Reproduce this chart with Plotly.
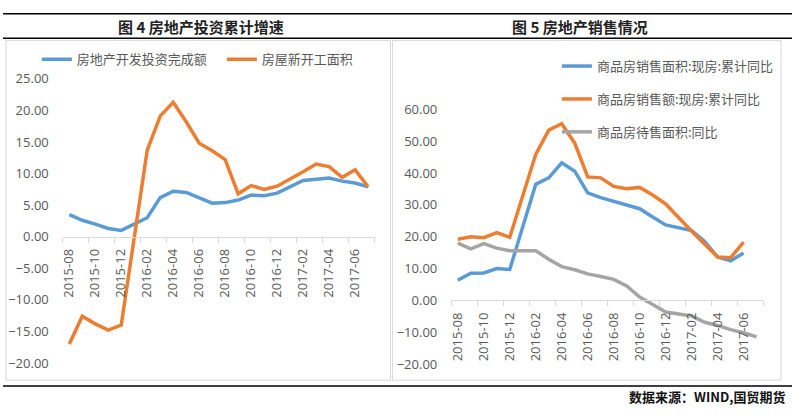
import plotly.graph_objects as go

W, H = 792, 416

months = ["2015-08", "2015-09", "2015-10", "2015-11", "2015-12", "2016-01",
          "2016-02", "2016-03", "2016-04", "2016-05", "2016-06", "2016-07",
          "2016-08", "2016-09", "2016-10", "2016-11", "2016-12", "2017-01",
          "2017-02", "2017-03", "2017-04", "2017-05", "2017-06", "2017-07"]

# Figure 4
invest = [3.5, 2.6, 2.0, 1.3, 1.0, None, 3.0, 6.2, 7.2, 7.0, 6.1, 5.3,
          5.4, 5.8, 6.6, 6.5, 6.9, None, 8.9, 9.1, 9.3, 8.8, 8.5, 7.9]
newstart = [-17.0, -12.6, -13.8, -14.8, -14.0, None, 13.7, 19.1, 21.3, 18.2, 14.8, 13.6,
            12.2, 6.8, 8.1, 7.5, 8.0, None, 10.3, 11.5, 11.1, 9.4, 10.6, 7.9]

# Figure 5
sale_area = [6.3, 8.5, 8.6, 10.0, 9.7, None, 36.5, 38.5, 43.2, 40.6, 33.8, 32.3,
             31.1, 29.8, 28.8, 26.2, 23.7, None, 21.9, 18.5, 13.6, 12.4, 14.9, None]
sale_amt = [19.2, 20.0, 19.7, 21.3, 19.8, None, 45.9, 53.5, 55.5, 49.4, 38.8, 38.5,
            35.8, 35.1, 35.5, 33.1, 30.3, None, 21.7, 17.5, 13.6, 13.4, 18.3, None]
unsold = [18.0, 16.2, 17.8, 16.4, 15.6, None, 15.6, 12.9, 10.6, 9.6, 8.3, 7.5,
          6.6, 4.5, 1.0, -1.3, -3.7, None, -4.9, -6.9, -7.9, -9.2, -10.2, -11.5]

names4 = ["房地产开发投资完成额", "房屋新开工面积"]
names5 = ["商品房销售面积:现房:累计同比", "商品房销售额:现房:累计同比", "商品房待售面积:同比"]
title4 = "图 4 房地产投资累计增速"
title5 = "图 5 房地产销售情况"
source = "数据来源：WIND,国贸期货"

BLUE, ORANGE, GREY = "#5B9BD5", "#ED7D31", "#A5A5A5"
TXT = "#595959"
CJK = "Noto Sans CJK SC"
NUM = "Open Sans, Noto Sans, sans-serif"

x = list(range(len(months)))

def px_x(p):
    return p / W

def px_y(p):
    return 1 - p / H

fig = go.Figure()

fig.add_trace(go.Scatter(x=x, y=invest, name=names4[0], mode="lines", connectgaps=True,
                         line=dict(color=BLUE, width=3.5), xaxis="x", yaxis="y",
                         legend="legend"))
fig.add_trace(go.Scatter(x=x, y=newstart, name=names4[1], mode="lines", connectgaps=True,
                         line=dict(color=ORANGE, width=3.5), xaxis="x", yaxis="y",
                         legend="legend"))
for i, (vals, col) in enumerate([(sale_area, BLUE), (sale_amt, ORANGE), (unsold, GREY)]):
    fig.add_trace(go.Scatter(x=x, y=vals, name=names5[i], mode="lines", connectgaps=True,
                             line=dict(color=col, width=3.5), xaxis="x2", yaxis="y2",
                             legend="legend2", legendgroup="g%d" % i))

tickvals = x[::2]
ticktext = months[::2]
bounds = [i - 0.5 for i in range(0, len(months) + 1, 2)]

y1dom = [px_y(370), px_y(73)]
y1rng = [-20, 25]
y2dom = [px_y(371), px_y(105)]
y2rng = [-20, 60]

def zero_pos(dom, rng):
    return dom[0] + (0 - rng[0]) / (rng[1] - rng[0]) * (dom[1] - dom[0])

xcommon = dict(range=[-0.5, len(months) - 0.5], tickmode="array", tickvals=tickvals,
               ticktext=ticktext, tickangle=-90, ticks="", showgrid=False,
               showline=True, linecolor="#D9D9D9", linewidth=1, zeroline=False,
               tickfont=dict(family=NUM, size=13, color=TXT), ticklabelstandoff=6,
               minor=dict(tickmode="array", tickvals=bounds, ticks="outside",
                          ticklen=5, tickcolor="#D9D9D9", showgrid=False),
               anchor="free", fixedrange=True)
ycommon = dict(showgrid=False, zeroline=False, showline=False, ticks="",
               tickformat=".2f", tickfont=dict(family=NUM, size=13, color=TXT),
               ticklabelstandoff=13, fixedrange=True)

fig.update_layout(
    width=W, height=H, margin=dict(l=0, r=0, t=0, b=0),
    paper_bgcolor="white", plot_bgcolor="white",
    xaxis=dict(domain=[px_x(60), px_x(373)], position=zero_pos(y1dom, y1rng), **xcommon),
    yaxis=dict(domain=y1dom, range=y1rng, dtick=5, anchor="x", **ycommon),
    xaxis2=dict(domain=[px_x(450), px_x(763)], position=zero_pos(y2dom, y2rng), **xcommon),
    yaxis2=dict(domain=y2dom, range=y2rng, dtick=10, anchor="x2", **ycommon),
    legend=dict(orientation="h", x=px_x(34), y=px_y(37), xanchor="left", yanchor="top",
                font=dict(family=CJK, size=13, color=TXT), bgcolor="rgba(0,0,0,0)",
                itemwidth=30, entrywidthmode="pixels", entrywidth=140),
    legend2=dict(orientation="v", x=px_x(556), y=px_y(44), xanchor="left", yanchor="top",
                 font=dict(family=CJK, size=13, color=TXT), bgcolor="rgba(0,0,0,0)",
                 itemwidth=30, tracegroupgap=13),
    showlegend=True,
)

shapes = []
for yy in (5, 30.5, 394):
    shapes.append(dict(type="line", xref="paper", yref="paper", x0=0, x1=1,
                       y0=px_y(yy), y1=px_y(yy), line=dict(color="black", width=1.6)))
shapes.append(dict(type="rect", xref="paper", yref="paper", x0=px_x(3), x1=px_x(389),
                   y0=px_y(388), y1=px_y(33), line=dict(color="#D9D9D9", width=1)))
shapes.append(dict(type="rect", xref="paper", yref="paper", x0=px_x(391), x1=px_x(781),
                   y0=px_y(388), y1=px_y(33), line=dict(color="#D9D9D9", width=1)))
fig.update_layout(shapes=shapes)

fig.add_annotation(text="<b>" + title4 + "</b>", xref="paper", yref="paper",
                   x=px_x(199), y=px_y(18), xanchor="center", yanchor="middle",
                   showarrow=False, font=dict(family=CJK, size=15, color="#222222"))
fig.add_annotation(text="<b>" + title5 + "</b>", xref="paper", yref="paper",
                   x=px_x(579), y=px_y(18), xanchor="center", yanchor="middle",
                   showarrow=False, font=dict(family=CJK, size=15, color="#222222"))
fig.add_annotation(text="<b>" + source + "</b>", xref="paper", yref="paper",
                   x=px_x(787), y=px_y(405), xanchor="right", yanchor="middle",
                   showarrow=False, font=dict(family=CJK, size=13, color="#111111"))

fig.write_html("out.html", config={"displayModeBar": False},
               post_script="document.body.style.margin='0';document.body.style.padding='0';")
